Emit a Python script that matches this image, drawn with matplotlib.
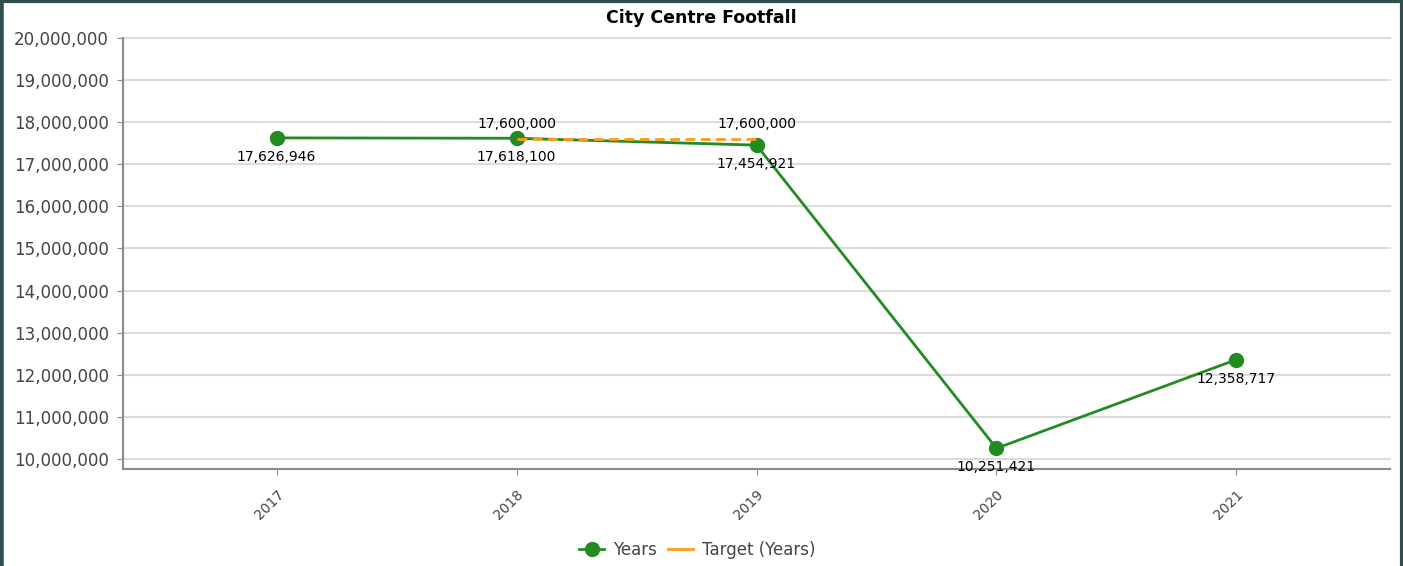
import matplotlib
matplotlib.use("Agg")
import matplotlib.pyplot as plt
from matplotlib.lines import Line2D
from matplotlib.ticker import FuncFormatter

years = ["2017", "2018", "2019", "2020", "2021"]
footfall = [17626946, 17618100, 17454921, 10251421, 12358717]
target_years = ["2018", "2019"]
target = [17600000, 17600000]
title = "City Centre Footfall"

plt.rcParams['font.family'] = ['DejaVu Sans']

fig = plt.figure(figsize=(14.03, 5.66), dpi=100)
fig.patch.set_facecolor("white")
ax = fig.add_axes([123/1403, 1-469/566, (1390-123)/1403, (469-38)/566])

xi = list(range(len(years)))
txi = [years.index(y) for y in target_years]

green = "#228B22"
orange = "#FF9A1A"

ax.plot(xi, footfall, color=green, lw=2, marker="o", markersize=10, zorder=3)
ax.plot(txi, target, color=orange, lw=2, ls=(0, (3.5, 2)), zorder=4)

for x, v in zip(xi, footfall):
    ax.annotate(f"{v:,}", (x, v), xytext=(0, -19), textcoords="offset pixels",
                ha="center", va="center", fontsize=10, color="black", zorder=5)
for x, v in zip(txi, target):
    ax.annotate(f"{v:,}", (x, v), xytext=(0, 15), textcoords="offset pixels",
                ha="center", va="center", fontsize=10, color="black", zorder=5)

ax.set_xlim(-0.64, len(years) - 1 + 0.64)
ax.set_ylim(9.76e6, 20e6)
ax.set_yticks([i * 1e6 for i in range(10, 21)])
ax.yaxis.set_major_formatter(FuncFormatter(lambda v, p: f"{int(v):,}"))
ax.set_xticks(xi)
ax.set_xticklabels(years, rotation=45, ha="right", rotation_mode="anchor")

ax.grid(axis="y", color="#dcdcdc", lw=1.5)
for gl in ax.get_ygridlines():
    gl.set_clip_on(False)
ax.set_axisbelow(True)
for s in ["top", "right"]:
    ax.spines[s].set_visible(False)
for s in ["left", "bottom"]:
    ax.spines[s].set_color("#8c8c8c")
    ax.spines[s].set_linewidth(1.5)
ax.tick_params(axis="y", colors="#8c8c8c", labelcolor="#444444", labelsize=12, length=4, pad=6)
ax.tick_params(axis="x", colors="#8c8c8c", labelcolor="#444444", labelsize=10, length=4, pad=9)

fig.text(0.5, 1 - 18/566, title, ha="center", va="center", fontsize=12.5, fontweight="bold", color="black")

handles = [Line2D([], [], color=green, lw=2, marker="o", markersize=10),
           Line2D([], [], color=orange, lw=2)]
fig.legend(handles, ["Years", "Target (Years)"], loc="center", bbox_to_anchor=(0.497, 1 - 550/566),
           ncol=2, frameon=False, fontsize=12, labelcolor="#444444",
           handlelength=1.5, handletextpad=0.5, columnspacing=0.7)

border = "#2F4F4F"
fig.add_artist(Line2D([0.001, 0.001], [0, 1], transform=fig.transFigure, color=border, lw=4))
fig.add_artist(Line2D([0, 1], [0.998, 0.998], transform=fig.transFigure, color=border, lw=3))
fig.add_artist(Line2D([0.999, 0.999], [0, 1], transform=fig.transFigure, color=border, lw=3))

fig.savefig("out.png", dpi=100)
